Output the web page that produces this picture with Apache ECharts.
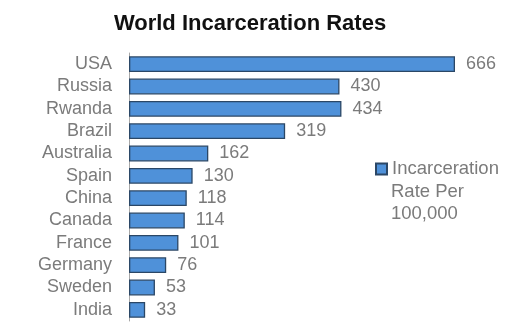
<!DOCTYPE html>
<html><head><meta charset="utf-8">
<script src="https://cdn.jsdelivr.net/npm/echarts@6/dist/echarts.min.js"></script>
<style>html,body{margin:0;padding:0;background:#fff}#c{width:524px;height:334px}</style>
</head><body><div id="c"></div>
<script>
var categories = ['USA','Russia','Rwanda','Brazil','Australia','Spain','China','Canada','France','Germany','Sweden','India'];
var values = [666,430,434,319,162,130,118,114,101,76,53,33];
var seriesName = 'Incarceration Rate Per 100,000';
var legendLines = ['Incarceration', 'Rate Per', '100,000'];

var FONT = 'Liberation Sans, Arial, sans-serif';
var GREY = '#7b7b7b';
var chart = echarts.init(document.getElementById('c'));
chart.setOption({
  animation: false,
  title: {text: 'World Incarceration Rates', left: 245, top: 8, textAlign: 'center',
    textStyle: {fontFamily: FONT, fontSize: 22, fontWeight: 'bold', color: '#111'}},
  grid: {left: 129, top: 53, width: 326, height: 268, containLabel: false},
  xAxis: {type: 'value', min: 0, max: 666, show: false},
  yAxis: {type: 'category', data: categories, inverse: true,
    axisLine: {show: true, lineStyle: {color: '#a8a8a8', width: 1}},
    axisTick: {show: false},
    axisLabel: {interval: 0, margin: 17, color: GREY, fontFamily: FONT, fontSize: 18}},
  legend: {left: 375, top: 158, padding: 0, orient: 'vertical', icon: 'rect', itemWidth: 11, itemHeight: 11,
    formatter: function () { return legendLines[0]; },
    textStyle: {color: GREY, fontFamily: FONT, fontSize: 18.5, lineHeight: 22}},
  graphic: [{type: 'text', left: 391, top: 181,
    style: {text: legendLines.slice(1).join('\n'), fill: GREY, font: '18.5px ' + FONT, lineHeight: 22}}],
  series: [{name: seriesName, type: 'bar', data: values, barCategoryGap: '29%',
    itemStyle: {color: '#4f91d9', borderColor: '#2b4766', borderWidth: 1.3},
    label: {show: true, position: 'right', distance: 11, color: GREY,
      fontFamily: FONT, fontSize: 18}}]
});
</script></body></html>
